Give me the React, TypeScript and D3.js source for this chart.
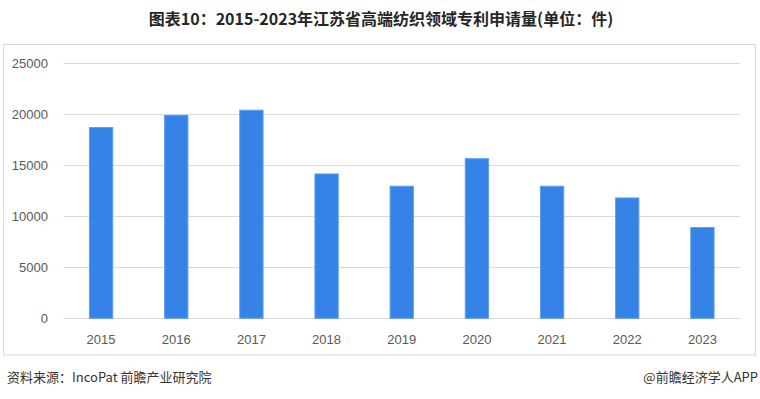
import React from "react";
import * as d3 from "d3";

const categories = ["2015", "2016", "2017", "2018", "2019", "2020", "2021", "2022", "2023"];
const values = [18700, 19900, 20400, 14150, 12950, 15650, 12950, 11800, 8900];
const yTicks = [0, 5000, 10000, 15000, 20000, 25000];

const title = "图表10：2015-2023年江苏省高端纺织领域专利申请量(单位：件)";
const source = "资料来源：IncoPat 前瞻产业研究院";
const credit = "@前瞻经济学人APP";

export default function App() {
  const W = 760;
  const H = 399;
  const left = 63.5;
  const right = 740;
  const top = 63.3;
  const bottom = 318.3;

  const x = d3.scaleBand<string>().domain(categories).range([left, right]).paddingInner(0.69).paddingOuter(0.345);
  const y = d3.scaleLinear().domain([0, 25000]).range([bottom, top]);

  const sans = "'Liberation Sans', Arial, sans-serif";
  const cjk = "'Noto Sans CJK SC', 'Liberation Sans', sans-serif";

  return (
    <div style={{ position: "absolute", left: 0, top: 0 }}>
      <svg width={W} height={H} viewBox={`0 0 ${W} ${H}`} style={{ display: "block", background: "#fff" }}>
        <rect x={0} y={0} width={W} height={H} fill="#fff" />
        <text x={381} y={25} textAnchor="middle" fontFamily={cjk} fontWeight="bold" fontSize={16} fill="#262626">
          {title}
        </text>
        <rect x={3.5} y={44.5} width={752} height={310.5} fill="none" stroke="#d9d9d9" strokeWidth={1} />
        {yTicks.map((t) => (
          <g key={t}>
            <line x1={left} x2={right} y1={Math.round(y(t)) + 0.5} y2={Math.round(y(t)) + 0.5} stroke="#d9d9d9" strokeWidth={1} />
            <text x={48} y={y(t)} dy="0.35em" textAnchor="end" fontFamily={sans} fontSize={13} fill="#595959">
              {t}
            </text>
          </g>
        ))}
        {categories.map((c, i) => (
          <g key={c}>
            <rect
              x={x(c)}
              y={y(values[i])}
              width={x.bandwidth()}
              height={y(0) - y(values[i])}
              fill="#3583e6"
              stroke="#5e9ef0"
              strokeWidth={1}
            />
            <text x={(x(c) as number) + x.bandwidth() / 2} y={339} dy="0.35em" textAnchor="middle" fontFamily={sans} fontSize={13} fill="#595959">
              {c}
            </text>
          </g>
        ))}
        <text x={7} y={382} fontFamily={cjk} fontSize={13} fill="#333">
          {source}
        </text>
        <text x={758} y={382} textAnchor="end" fontFamily={cjk} fontSize={13} fill="#333">
          {credit}
        </text>
      </svg>
    </div>
  );
}
